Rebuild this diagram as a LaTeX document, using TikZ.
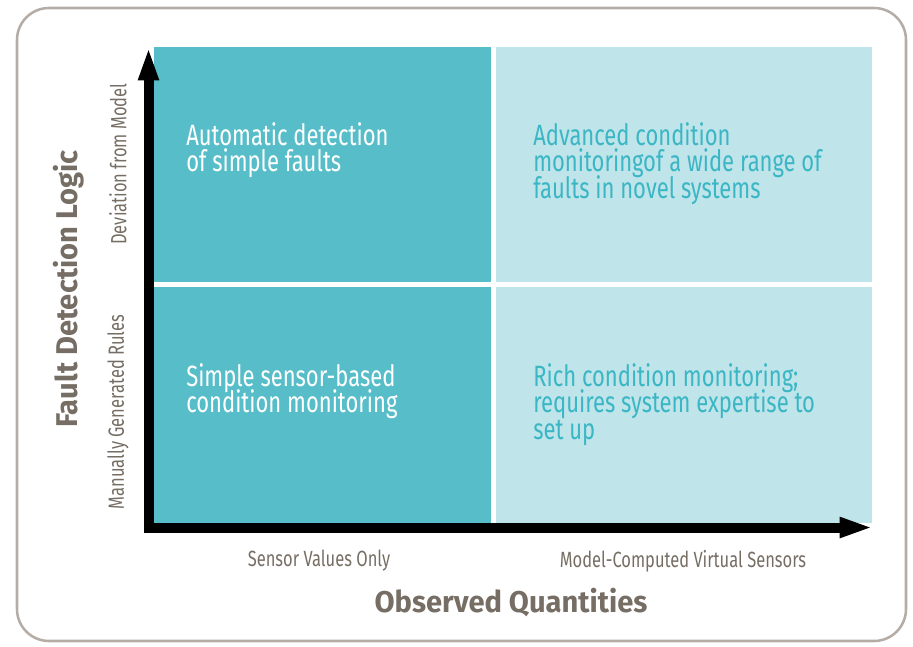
\documentclass[tikz,border=0pt]{standalone}
\usepackage{fontspec}
\setmainfont{Fira Sans}[FakeStretch=0.75]
\newfontfamily\titlefont{Fira Sans}[FakeStretch=0.97]
\usepackage{tikz}
\usetikzlibrary{arrows.meta}

\definecolor{framegray}{RGB}{181,173,165}
\definecolor{labelgray}{RGB}{118,110,100}
\definecolor{tealdark}{RGB}{87,190,201}
\definecolor{teallight}{RGB}{191,228,234}
\definecolor{tealtext}{RGB}{58,182,196}

\tikzset{
  quadtext/.style={anchor=north west, inner sep=0pt, align=left,
    font=\fontsize{22}{20}\selectfont, execute at begin node={\lineskiplimit=-20pt}},
  axislabel/.style={inner sep=0.75pt, text=labelgray, font=\fontsize{16.5}{18}\selectfont},
  axistitle/.style={inner sep=0.75pt, text=labelgray, font=\titlefont\bfseries\fontsize{22.5}{24}\selectfont},
  axisarrow/.style={line width=7.5pt, {Triangle[length=25pt,width=14pt]}-{Triangle[length=25pt,width=14pt]}}
}

\begin{document}
\begin{tikzpicture}[x=0.75pt,y=0.75pt,yscale=-1,xscale=1]
\useasboundingbox (0,0) rectangle (913,646);

%Rounded Rect: outer frame
\draw [color=framegray, line width=1.9pt, rounded corners=24pt] (17,8) rectangle (906,641);

%Shape: Rectangle (four quadrants)
\fill [tealdark] (154,47) rectangle (491,282);
\fill [tealdark] (154,287) rectangle (491,523);
\fill [teallight] (496,47) rectangle (872,282);
\fill [teallight] (496,287) rectangle (872,523);

%Axes
\coordinate (ytip) at (148.5,47);
\coordinate (origin) at (148.5,527.5);
\coordinate (xtip) at (873,527.5);
\draw [axisarrow] (ytip) -- (origin) -- (xtip);

% Text Node
\node [quadtext, text=white] (autodetect) at (186,122) {Automatic detection\\of simple faults};
% Text Node
\node [quadtext, text=tealtext] (advanced) at (533,122) {Advanced condition\\monitoringof a wide range of\\faults in novel systems};
% Text Node
\node [quadtext, text=white] (simplesensor) at (186,363) {Simple sensor-based\\condition monitoring};
% Text Node
\node [quadtext, text=tealtext] (richmonitor) at (533,363) {Rich condition monitoring;\\requires system expertise to\\set up};

% Text Node
\node [axislabel] (sensorvals) at (319,561) {Sensor Values Only};
% Text Node
\node [axislabel] (virtsensors) at (683,561) {Model-Computed Virtual Sensors};
% Text Node
\node [axislabel, rotate=90] (deviation) at (118,164) {Deviation from Model};
% Text Node
\node [axislabel, rotate=90] (manualrules) at (118,412) {Manually Generated Rules};

% Text Node
\node [axistitle] (observed) at (511,603) {Observed Quantities};
% Text Node
\node [axistitle, rotate=90] (faultlogic) at (69,289) {Fault Detection Logic};
\end{tikzpicture}
\end{document}
